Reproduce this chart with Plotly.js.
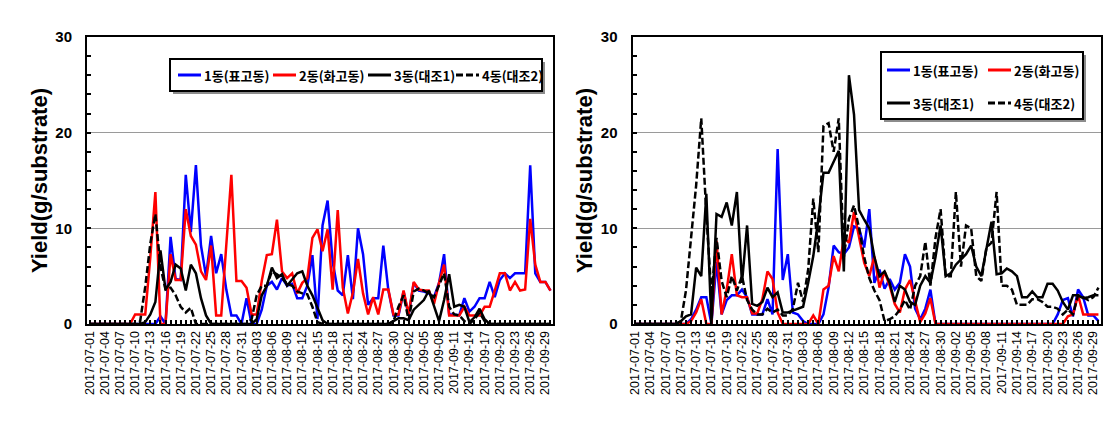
<!DOCTYPE html>
<html><head><meta charset="utf-8">
<script src="https://cdn.plot.ly/plotly-3.0.1.min.js"></script>
<style>html,body{margin:0;padding:0;background:#fff}#chart{width:1119px;height:423px}</style>
</head><body><div id="chart"></div>
<script>
// ---- categories: daily dates 2017-07-01 .. 2017-09-30 ----
const START_DATE = '2017-07-01';
const N_DAYS = 92;
const dates = [];
for (let d = 0; d < N_DAYS; d++) {
  const t = new Date(Date.UTC(2017, 6, 1 + d));
  dates.push(t.toISOString().slice(0, 10));
}

const seriesNames = ['1동(표고동)', '2동(화고동)', '3동(대조1)', '4동(대조2)'];

// ---- left chart values ----
const left1 = [0,0,0,0,0,0,0,0,0,0,
  0,0,0,0,0.8,0,9.1,4.7,4.6,15.6,
  9.6,16.6,8.2,5.0,9.2,5.3,7.3,3.6,0.9,0.9,
  0,2.7,0,0,1.5,4.0,4.4,3.6,4.8,4.0,
  4.2,2.7,2.7,4.0,7.2,0.5,10.3,12.9,6.5,3.5,
  3.0,7.2,2.6,10.0,7.3,2.0,2.7,2.7,8.2,3.5,
  0.9,0.9,3.4,0.9,4.3,3.5,3.4,3.2,2.8,4.3,
  7.3,1.0,1.0,0.9,2.7,1.3,1.8,2.7,2.7,4.4,
  2.8,4.6,5.3,4.8,5.3,5.3,5.3,16.6,5.3,4.4,
  4.4,3.5];
const left2 = [0,0,0,0,0,0,0,0,0,1.0,
  1.0,1.0,7.0,13.8,0,0,7.3,4.6,4.6,12.0,
  9.2,8.3,5.5,4.6,8.2,0.9,0.9,8.0,15.6,4.5,
  4.5,3.8,1.0,1.0,4.5,7.2,7.3,10.9,5.5,4.8,
  5.3,3.2,4.3,4.8,9.0,9.9,7.6,9.9,3.6,11.9,
  3.8,1.1,3.3,6.8,3.2,1.0,2.8,1.0,3.6,3.6,
  1.0,1.0,3.5,1.0,4.4,3.6,3.5,3.5,2.1,4.3,
  6.2,0.9,0.9,0.9,1.8,0.9,0.9,0.9,1.8,1.8,
  3.5,5.3,5.3,3.5,4.4,3.5,3.6,11.0,6.2,4.4,
  4.4,3.5];
const left3 = [0,0,0,0,0,0,0,0,0,0,
  0,0.2,1.0,2.3,7.7,3.6,4.4,6.2,5.8,3.5,
  6.2,5.3,2.7,0.9,0,0,0,0,0,0,
  0,0,0,0.5,3.0,4.0,5.9,4.8,5.2,4.0,
  4.6,5.3,5.5,4.0,3.0,1.6,0.4,0,0,0,
  0,0,0,0,0,0,0,0,0,0,
  0.3,0.6,0.6,0.4,1.5,2.0,2.5,3.5,2.0,0.3,
  2.5,5.2,1.8,2.0,1.8,0.2,0.7,1.6,0.5,0,
  0,0,0,0,0,0,0,0,0,0,
  0,0];
const left4 = [0,0,0,0,0,0,0,0,0,0,
  0.3,3.9,8.4,11.5,6.0,3.6,3.8,3.0,1.8,1.2,
  1.7,0,0,0,0,0,0,0,0,0,
  0,0,0.5,3.0,4.0,4.0,5.5,5.2,4.8,4.2,
  4.0,3.4,3.2,3.1,1.8,0.2,0,0,0,0,
  0,0,0,0,0,0,0,0,0,0,
  0.3,1.8,3.0,0.4,3.4,3.7,3.5,3.2,2.8,4.0,
  5.3,1.8,1.0,0.9,0.3,0,0.5,1.2,0.3,0,
  0,0,0,0,0,0,0,0,0,0,
  0,0];

// ---- right chart values ----
const right1 = [0,0,0,0,0,0,0,0,0,0,
  0,0.5,1.5,2.8,2.8,0,6.5,1.0,2.5,3.0,
  3.0,3.6,2.8,1.0,1.0,1.0,2.6,1.0,18.3,4.6,
  7.3,1.2,1.0,0.3,0,0,0,1.0,3.8,8.2,
  7.5,7.3,8.0,10.2,10.0,8.0,12.0,4.3,5.7,3.7,
  4.7,3.6,4.3,7.3,6.0,1.6,0.5,1.6,3.6,0,
  0,0,0,0,0,0,0,0,0,0,
  0,0,0,0,0,0,0,0,0,0,
  0,0,0,1.0,2.5,2.7,0.8,3.6,2.8,0.9,
  0.9,0.3];
const right2 = [0,0,0,0,0,0,0,0,0,0,
  0,0.3,1.2,2.6,0,0,8.7,1.0,3.6,7.3,
  3.0,2.8,2.8,1.1,1.1,2.6,5.5,4.7,1.2,0,
  0,0,0,0,0,0.9,0,3.6,4.0,7.1,
  5.5,9.0,8.5,11.7,9.1,6.4,5.0,7.1,3.8,5.5,
  4.0,2.1,1.2,3.6,4.6,2.3,0.2,1.1,2.7,0,
  0,0,0,0,0,0,0,0,0,0,
  0,0,0,0,0,0,0,0,0,0,
  0,0,0,0,0,0.8,1.0,3.0,1.0,1.0,
  1.0,1.0];
const right3 = [0,0,0,0,0,0,0,0,0,0.3,
  0.8,1.0,5.9,5.0,13.6,0,11.5,11.2,12.7,10.3,
  13.8,4.3,10.3,2.1,1.9,2.3,3.8,2.8,3.3,1.2,
  1.2,1.4,1.6,1.8,4.3,7.1,11.0,15.8,15.8,17.0,
  18.1,5.5,26.0,21.9,11.9,10.9,10.0,7.0,5.0,5.5,
  4.3,2.3,4.0,3.6,2.3,2.0,4.0,5.0,4.3,7.0,
  10.3,5.0,5.3,6.2,6.7,7.3,8.2,6.0,5.0,7.8,
  10.7,5.2,5.3,5.8,5.5,5.0,2.8,2.8,3.4,2.8,
  2.8,4.2,4.2,3.5,2.3,1.5,3.0,3.0,2.7,2.8,
  3.0,3.0];
const right4 = [0,0,0,0,0,0,0,0,0,0.3,
  3.5,9.0,14.5,21.5,11.5,3.0,9.0,4.5,2.8,5.0,
  3.5,5.0,2.5,1.5,1.0,1.0,1.6,1.2,1.5,0.9,
  0.9,1.6,4.3,2.3,5.7,13.1,7.5,20.7,21.0,18.0,
  21.5,7.0,11.0,12.4,10.0,7.0,4.8,3.5,2.5,0.3,
  0.5,0.8,1.5,2.5,1.5,4.0,5.0,8.6,4.0,9.0,
  12.0,5.0,5.0,13.8,6.0,10.3,10.0,5.0,4.5,8.0,
  8.5,13.8,4.0,4.0,3.6,2.0,2.0,2.0,2.6,2.6,
  2.3,1.8,1.8,1.6,1.0,1.5,1.0,3.0,2.8,2.5,
  2.8,3.8];

// ---- styling ----
const colors = ['#0000FF', '#FF0000', '#000000', '#000000'];
const dashes = ['solid', 'solid', 'solid', '7px,3px'];
const LW = 2.5;

const W = 1119, H = 423;
const M = {l: 87, r: 18, t: 37, b: 99};
const PW = W - M.l - M.r, PH = H - M.t - M.b;
const px = x => (x - M.l) / PW;
const py = y => (H - M.b - y) / PH;

const traces = [];
[left1, left2, left3, left4].forEach((ys, k) => {
  traces.push({x: dates, y: ys, type: 'scatter', mode: 'lines', name: seriesNames[k],
    xaxis: 'x', yaxis: 'y', showlegend: false,
    line: {color: colors[k], width: LW, dash: dashes[k]}, hoverinfo: 'skip'});
});
[right1, right2, right3, right4].forEach((ys, k) => {
  traces.push({x: dates, y: ys, type: 'scatter', mode: 'lines', name: seriesNames[k],
    xaxis: 'x2', yaxis: 'y2', showlegend: false,
    line: {color: colors[k], width: LW, dash: dashes[k]}, hoverinfo: 'skip'});
});

const DAY = 86400000;
function xAxis(domain) {
  return {domain: domain, type: 'date',
    range: ['2017-06-30 12:00', '2017-09-30 12:00'],
    tick0: START_DATE, dtick: 3 * DAY, tickformat: '%Y-%m-%d', tickangle: -90,
    ticks: 'inside', ticklen: 4, tickwidth: 2, tickcolor: '#000',
    minor: {dtick: DAY, ticks: 'inside', ticklen: 4, tickwidth: 2, tickcolor: '#000', showgrid: false},
    showline: true, linecolor: '#000', linewidth: 2, mirror: true,
    showgrid: false, zeroline: false,
    tickfont: {family: 'Liberation Sans, Arial, sans-serif', size: 12.5, color: '#000'}};
}
function yAxis(anchor) {
  return {domain: [0, 1], anchor: anchor, range: [0, 30], tick0: 0, dtick: 10,
    ticks: 'inside', ticklen: 4, tickwidth: 2, tickcolor: '#000',
    minor: {dtick: 2, ticks: 'inside', ticklen: 4, tickwidth: 2, tickcolor: '#000', showgrid: false},
    showline: true, linecolor: '#000', linewidth: 2, mirror: true,
    showgrid: true, gridcolor: '#9a9a9a', gridwidth: 1, zeroline: false,
    ticklabelstandoff: 10,
    tickfont: {family: 'Liberation Sans, Arial, sans-serif', size: 15, color: '#000', weight: 'bold'},
    title: {text: 'Yield(g/substrate)', standoff: 2,
      font: {family: 'Liberation Sans, Arial, sans-serif', size: 22, color: '#000', weight: 'bold'}}};
}

// ---- legend boxes (layout decoration) ----
const legFont = {family: '"Noto Sans CJK KR", sans-serif', size: 13, color: '#000', weight: 'bold'};
const shapes = [];
const annotations = [];
function box(x0, y0, x1, y1) {
  shapes.push({type: 'rect', xref: 'paper', yref: 'paper', layer: 'above',
    x0: px(x0 + 3), x1: px(x1 + 3), y0: py(y1 + 3), y1: py(y0 + 3),
    line: {width: 0}, fillcolor: '#8c8c8c'});
  shapes.push({type: 'rect', xref: 'paper', yref: 'paper', layer: 'above',
    x0: px(x0), x1: px(x1), y0: py(y1), y1: py(y0),
    line: {color: '#000', width: 2}, fillcolor: '#ffffff'});
}
function key(k, xs, y) {
  shapes.push({type: 'line', xref: 'paper', yref: 'paper', layer: 'above',
    x0: px(xs), x1: px(xs + 23), y0: py(y), y1: py(y),
    line: {color: colors[k], width: 3, dash: dashes[k]}});
  annotations.push({text: seriesNames[k], xref: 'paper', yref: 'paper',
    x: px(xs + 24), y: py(y), xanchor: 'left', yanchor: 'middle',
    showarrow: false, font: legFont});
}
box(170, 59, 542, 91);
[178, 273, 368, 456].forEach((xs, k) => key(k, xs, 75));
box(881, 52, 1083, 119);
key(0, 887, 70); key(1, 988, 70);
key(2, 887, 103); key(3, 988, 103);

const layout = {
  width: W, height: H, margin: M,
  paper_bgcolor: '#fff', plot_bgcolor: '#fff',
  showlegend: false,
  xaxis: Object.assign(xAxis([0, px(553)]), {anchor: 'y'}),
  yaxis: yAxis('x'),
  xaxis2: Object.assign(xAxis([px(632.5), 1]), {anchor: 'y2'}),
  yaxis2: yAxis('x2'),
  shapes: shapes,
  annotations: annotations
};

Plotly.newPlot('chart', traces, layout, {staticPlot: true, displayModeBar: false});
</script></body></html>
